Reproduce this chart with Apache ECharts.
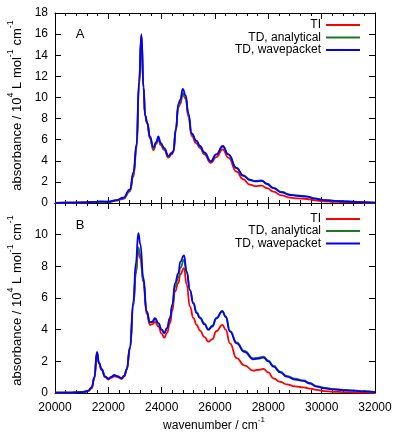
<!DOCTYPE html>
<html><head><meta charset="utf-8">
<script src="https://cdn.jsdelivr.net/npm/echarts@6/dist/echarts.min.js"></script>
<style>html,body{margin:0;padding:0;background:#fff}#c{width:395px;height:438px}</style>
</head><body><div id="c"></div>
<script>
// ---- data (panel A) ----
const wavenumberA = [20000,20500,21000,21500,21700,22000,22300,22560,22810,22940,23060,23150,23240,23320,23380,23460,23560,23690,23800,23875,23960,24100,24250,24370,24440,24530,24625,24700,24790,24900,25000,25125,25300,25440,25600,25840,26050,26290,26500,26810,27050,27310,27500,27750,27950,28190,28500,28810,29100,29440,29750,30060,30500,30940,31500,32000];
const tiA = [0.02,0.03,0.04,0.08,0.1,0.1,0.22,0.4,1.1,2.5,5.2,11.0,15.9,10.9,8.2,7.5,6.1,5.0,5.6,6.1,5.5,5.0,4.3,4.6,4.8,6.8,9.1,9.4,10.3,9.9,8.2,6.35,5.65,5.2,4.6,3.8,4.35,5.08,4.3,2.97,2.25,1.75,1.6,1.64,1.4,1.07,0.72,0.5,0.43,0.38,0.25,0.15,0.1,0.07,0.04,0.01];
const tdAnalyticalA = [0.02,0.03,0.05,0.1,0.12,0.12,0.25,0.45,1.2,2.7,5.4,11.2,15.8,10.9,8.3,7.6,6.2,5.15,5.7,6.2,5.6,5.1,4.4,4.75,4.95,6.9,9.2,9.6,10.4,10.0,8.4,6.55,5.85,5.35,4.75,3.95,4.6,5.35,4.6,3.32,2.63,2.22,2.1,2.14,1.84,1.44,1.04,0.8,0.71,0.62,0.44,0.3,0.21,0.15,0.09,0.03];
const tdWavepacketA = [0.02,0.03,0.05,0.1,0.15,0.12,0.28,0.5,1.3,2.9,5.6,11.5,16.0,11.0,8.3,7.6,6.3,5.3,5.8,6.3,5.7,5.2,4.45,4.7,4.9,7.0,9.4,9.8,10.8,10.2,8.5,6.6,5.9,5.4,4.8,3.95,4.6,5.4,4.6,3.3,2.6,2.18,2.05,2.1,1.8,1.4,1.0,0.76,0.68,0.6,0.42,0.28,0.2,0.14,0.08,0.03];
// ---- data (panel B) ----
const wavenumberB = [20000,20500,21000,21125,21250,21375,21475,21575,21650,21750,21875,22000,22100,22225,22350,22500,22600,22690,22810,22940,23030,23125,23200,23312,23437,23562,23650,23750,23875,24000,24100,24200,24312,24400,24500,24625,24700,24837,24937,25062,25187,25312,25437,25600,25750,25900,26050,26275,26400,26562,26812,27100,27437,27650,27812,28000,28187,28450,28687,29000,29312,29550,29812,30100,30437,30800,31187,31600,32000];
const tiB = [0.02,0.03,0.05,0.08,0.13,0.3,0.9,2.55,1.85,1.45,1.0,0.85,0.95,1.05,1.0,0.9,1.05,1.45,2.8,5.6,7.5,9.05,8.5,7.0,5.0,4.3,4.35,4.5,4.2,3.75,3.5,3.8,4.4,5.2,6.41,6.94,7.5,7.89,6.84,5.45,4.75,4.3,3.94,3.55,3.25,3.4,3.9,4.3,4.0,3.14,2.2,1.75,1.41,1.47,1.52,1.3,0.93,0.7,0.55,0.42,0.36,0.28,0.2,0.12,0.08,0.06,0.04,0.02,0.01];
const tdAnalyticalB = [0.02,0.03,0.06,0.09,0.14,0.33,0.95,2.5,1.9,1.5,1.05,0.9,1.0,1.12,1.05,0.93,1.1,1.5,2.8,5.5,7.6,9.2,8.7,7.1,5.15,4.45,4.5,4.7,4.4,4.0,3.8,4.1,4.75,5.5,6.7,7.3,7.9,8.4,7.6,6.5,5.7,5.1,4.78,4.4,4.03,4.25,4.75,5.18,4.85,3.93,3.2,2.66,2.19,2.24,2.3,2.05,1.72,1.35,1.08,0.9,0.8,0.64,0.44,0.33,0.25,0.2,0.16,0.11,0.06];
const tdWavepacketB = [0.02,0.03,0.06,0.09,0.15,0.35,1.0,2.6,1.9,1.5,1.05,0.9,1.0,1.12,1.05,0.93,1.1,1.5,2.9,5.8,8.2,10.1,9.4,7.3,5.15,4.47,4.5,4.73,4.41,4.0,3.78,4.1,4.73,5.6,6.94,7.57,8.3,8.69,7.68,6.5,5.65,5.04,4.73,4.35,3.99,4.2,4.7,5.15,4.8,3.88,3.14,2.6,2.13,2.18,2.24,2.0,1.67,1.3,1.03,0.85,0.76,0.6,0.4,0.3,0.23,0.18,0.15,0.1,0.05];
// ---- labels ----
const seriesNames = ['TI','TD, analytical','TD, wavepacket'];
const seriesColors = ['#ff0000','#1f7a1f','#0000ff'];
const panelLabels = ['A','B'];
const xRange = [20000, 32000];
const yRangeA = [0, 18];
const yRangeB = [0, 12];

const FONT = 'Liberation Sans, Arial, sans-serif';
const chart = echarts.init(document.getElementById('c'));

function zip(x, y){ return x.map((v,i)=>[v, y[i]]); }

const grids = [
  {left:55, top:13, width:320, height:190},
  {left:55, top:203, width:320, height:190}
];
function xAx(gi, pos, labels){
  return {type:'value', gridIndex:gi, position:pos, min:xRange[0], max:xRange[1], interval:2000,
    axisLine:{show:true, onZero:false, lineStyle:{color:'#000', width:1}},
    axisTick:{show:true, inside:true, length:6, lineStyle:{color:'#000'}},
    minorTick:{show:true, splitNumber:5, length:3, lineStyle:{color:'#000'}},
    splitLine:{show:false},
    axisLabel:{show:labels, color:'#000', fontFamily:FONT, fontSize:12, margin:9,
      formatter: function(v){ return String(v); }}
  };
}
function yAx(gi, pos, range, labels){
  return {type:'value', gridIndex:gi, position:pos, min:range[0], max:range[1], interval:2,
    axisLine:{show:true, onZero:false, lineStyle:{color:'#000', width:1}},
    axisTick:{show:true, inside:true, length:6, lineStyle:{color:'#000'}},
    splitLine:{show:false},
    axisLabel:{show:labels, color:'#000', fontFamily:FONT, fontSize:12, margin:7,
      formatter: function(v){ return (range[1]===12 && v===12) ? '' : String(v); }}
  };
}
const xAxis = [xAx(0,'bottom',false), xAx(0,'top',false), xAx(1,'bottom',true), xAx(1,'top',false)];
const yAxis = [yAx(0,'left',yRangeA,true), yAx(0,'right',yRangeA,false), yAx(1,'left',yRangeB,true), yAx(1,'right',yRangeB,false)];

const panelData = [
  [wavenumberA, [tiA, tdAnalyticalA, tdWavepacketA]],
  [wavenumberB, [tiB, tdAnalyticalB, tdWavepacketB]]
];
const series = [];
panelData.forEach((p, pi) => {
  p[1].forEach((vals, si) => {
    series.push({type:'line', name:seriesNames[si], xAxisIndex: pi*2, yAxisIndex: pi*2,
      data: zip(p[0], vals), showSymbol:false, smooth:0.5, smoothMonotone:'x',
      lineStyle:{color:seriesColors[si], width:1.8}, itemStyle:{color:seriesColors[si]},
      animation:false, z: 2+si});
  });
});

const legendTops = [[19, 31.5, 44], [213, 225, 237.5]];
const legend = [];
legendTops.forEach(tops => {
  tops.forEach((t, i) => {
    legend.push({data:[seriesNames[i]], right:35, top:t, align:'right', orient:'vertical',
      icon:'rect', itemWidth:34, itemHeight:2, padding:0, selectedMode:false,
      textStyle:{color:'#000', fontFamily:FONT, fontSize:12}});
  });
});

const richY = {
  n:{fontFamily:FONT, fontSize:13, color:'#000', lineHeight:17, verticalAlign:'bottom'},
  s:{fontFamily:FONT, fontSize:9, color:'#000', lineHeight:17, verticalAlign:'top'}
};
const richX = {
  n:{fontFamily:FONT, fontSize:12, color:'#000', lineHeight:16, verticalAlign:'bottom'},
  s:{fontFamily:FONT, fontSize:8, color:'#000', lineHeight:16, verticalAlign:'top'}
};
const yTitle = '{n|absorbance / 10}{s|4}{n| L mol}{s|-1}{n| cm}{s|-1}';
const graphic = [
  {type:'text', rotation:Math.PI/2, position:[15,105.5], silent:true,
    style:{text:yTitle, rich:richY, align:'center', verticalAlign:'middle'}},
  {type:'text', rotation:Math.PI/2, position:[15,300.5], silent:true,
    style:{text:yTitle, rich:richY, align:'center', verticalAlign:'middle'}},
  {type:'text', position:[214,424], silent:true,
    style:{text:'{n|wavenumber / cm}{s|-1}', rich:richX, align:'center', verticalAlign:'middle'}},
  {type:'text', position:[80,34.5], silent:true,
    style:{text:panelLabels[0], fontFamily:FONT, fontSize:13, fill:'#000', align:'center', verticalAlign:'middle'}},
  {type:'text', position:[80,225], silent:true,
    style:{text:panelLabels[1], fontFamily:FONT, fontSize:13, fill:'#000', align:'center', verticalAlign:'middle'}}
];

chart.setOption({animation:false, backgroundColor:'#fff', grid:grids, xAxis:xAxis, yAxis:yAxis,
  series:series, legend:legend, graphic:graphic});
</script></body></html>
